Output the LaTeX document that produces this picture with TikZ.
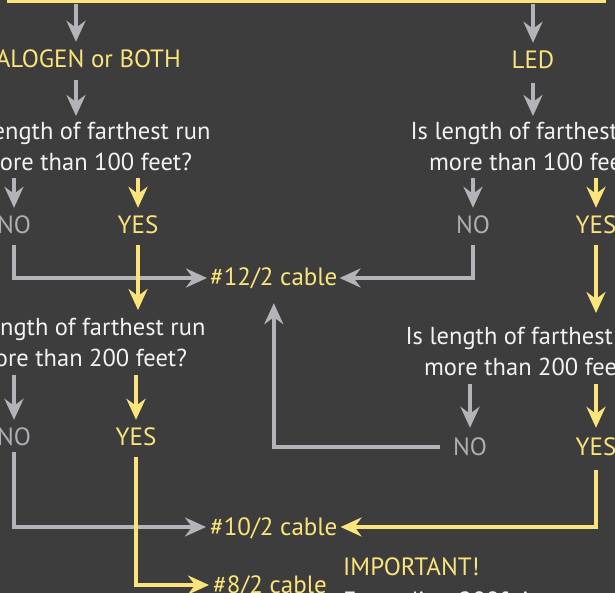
\documentclass[tikz,border=0pt]{standalone}
\usepackage{fontspec}
\setmainfont{PT Sans}
\usetikzlibrary{arrows.meta}

\definecolor{bgdark}{HTML}{3D3D3D}
\definecolor{ylw}{HTML}{FBE47C}
\definecolor{gry}{HTML}{B3B4BA}
\definecolor{notxt}{HTML}{ADAEB3}
\definecolor{wht}{HTML}{F2F2F2}

\tikzset{
  lbl/.style={inner sep=0pt, text height=16pt, text depth=0pt,
    font=\fontsize{25}{31}\selectfont},
  ylbl/.style={lbl, text=ylw},
  nolbl/.style={lbl, text=notxt},
  qlbl/.style={inner sep=0pt, font=\fontsize{24.5}{31}\selectfont,
    text=wht, align=center, anchor=north},
  garrow/.style={draw=gry, line width=4.5pt,
    -{Stealth[length=21pt,width=19pt,inset=7pt]}},
  yarrow/.style={draw=ylw, line width=4.5pt,
    -{Stealth[length=21pt,width=19pt,inset=7pt]}},
}

\begin{document}
\begin{tikzpicture}[x=1pt, y=-1pt]

    % 背景
    \fill[bgdark] (0,0) rectangle (615,593);
    \useasboundingbox (0,0) rectangle (615,593);

    % 上方的框
    \draw[ylw, line width=3pt] (8,-40) rectangle (604,1.5);
    \coordinate (topL) at (76,4);
    \coordinate (topR) at (533,4);

    % 插入文字
    \node[ylbl, anchor=east] (halogen) at (181,60) {HALOGEN or BOTH};
    \node[ylbl] (led) at (533,61) {LED};
    \node[qlbl] (q1l) at (86,122) {Is length of farthest run\\more than 100 feet?};
    \node[qlbl] (q1r) at (535,122) {Is length of farthest run\\more than 100 feet?};
    \node[nolbl] (no1l) at (14,226) {NO};
    \node[ylbl] (yes1l) at (138,226) {YES};
    \node[nolbl] (no1r) at (473,226) {NO};
    \node[ylbl] (yes1r) at (596,226) {YES};
    \node[ylbl, anchor=west] (c12) at (210,278) {\#12/2 cable};
    \node[qlbl] (q2l) at (81,318) {Is length of farthest run\\more than 200 feet?};
    \node[qlbl] (q2r) at (530,327) {Is length of farthest run\\more than 200 feet?};
    \node[nolbl] (no2l) at (14,437) {NO};
    \node[ylbl] (yes2l) at (136,437) {YES};
    \node[nolbl] (no2r) at (470,447) {NO};
    \node[ylbl] (yes2r) at (596,447) {YES};
    \node[ylbl, anchor=west] (c10) at (210,527) {\#10/2 cable};
    \node[ylbl, anchor=west] (c8) at (213,585) {\#8/2 cable};
    \node[ylbl, anchor=west] (imp) at (343,567) {IMPORTANT!};
    \node[lbl, text=wht, anchor=west] (exceed) at (343,601) {Exceeding 200ft is not};

    % 箭头
    \draw[garrow, shorten >=10pt] (topL) -- (topL |- halogen.north);
    \draw[garrow, shorten >=10pt] (topR) -- (led.north);
    \draw[garrow, shorten <=12pt, shorten >=6pt] (topL |- halogen.south) -- (topL |- q1l.north);
    \draw[garrow, shorten <=14pt, shorten >=6pt] (led.south) -- (topR |- q1r.north);

    \draw[garrow, shorten <=7pt, shorten >=10pt] (q1l.south -| no1l) -- (no1l.north);
    \draw[yarrow, shorten <=7pt, shorten >=10pt] (q1l.south -| yes1l) -- (yes1l.north);
    \draw[garrow, shorten <=7pt, shorten >=10pt] (q1r.south -| no1r) -- (no1r.north);
    \draw[yarrow, shorten <=7pt, shorten >=10pt] (q1r.south -| yes1r) -- (yes1r.north);

    \draw[garrow, shorten <=11pt, shorten >=3pt] (no1l.south) |- (c12.west);
    \draw[garrow, shorten <=11pt, shorten >=2pt] (no1r.south) |- (c12.east);
    \draw[yarrow, shorten <=11pt, shorten >=8pt] (yes1l.south) -- (yes1l.south |- q2l.north);
    \draw[yarrow, shorten <=11pt, shorten >=14pt] (yes1r.south) -- (yes1r.south |- q2r.north);

    \draw[garrow, shorten <=8pt, shorten >=9pt] (q2l.south -| no2l) -- (no2l.north);
    \draw[yarrow, shorten <=8pt, shorten >=9pt] (q2l.south -| yes2l) -- (yes2l.north);
    \draw[garrow, shorten <=8pt, shorten >=11pt] (q2r.south -| no2r) -- (no2r.north);
    \draw[yarrow, shorten <=8pt, shorten >=11pt] (q2r.south -| yes2r) -- (yes2r.north);

    \draw[garrow, shorten <=13pt, shorten >=17pt] (no2r.west) -| (c12.south);
    \draw[garrow, shorten <=7pt, shorten >=4pt] (no2l.south) |- (c10.west);
    \draw[yarrow, shorten <=15pt, shorten >=3pt] (yes2r.south) |- (c10.east);
    \draw[yarrow, shorten <=12pt, shorten >=4pt] (yes2l.south) |- (c8.west);

  \end{tikzpicture}
\end{document}
